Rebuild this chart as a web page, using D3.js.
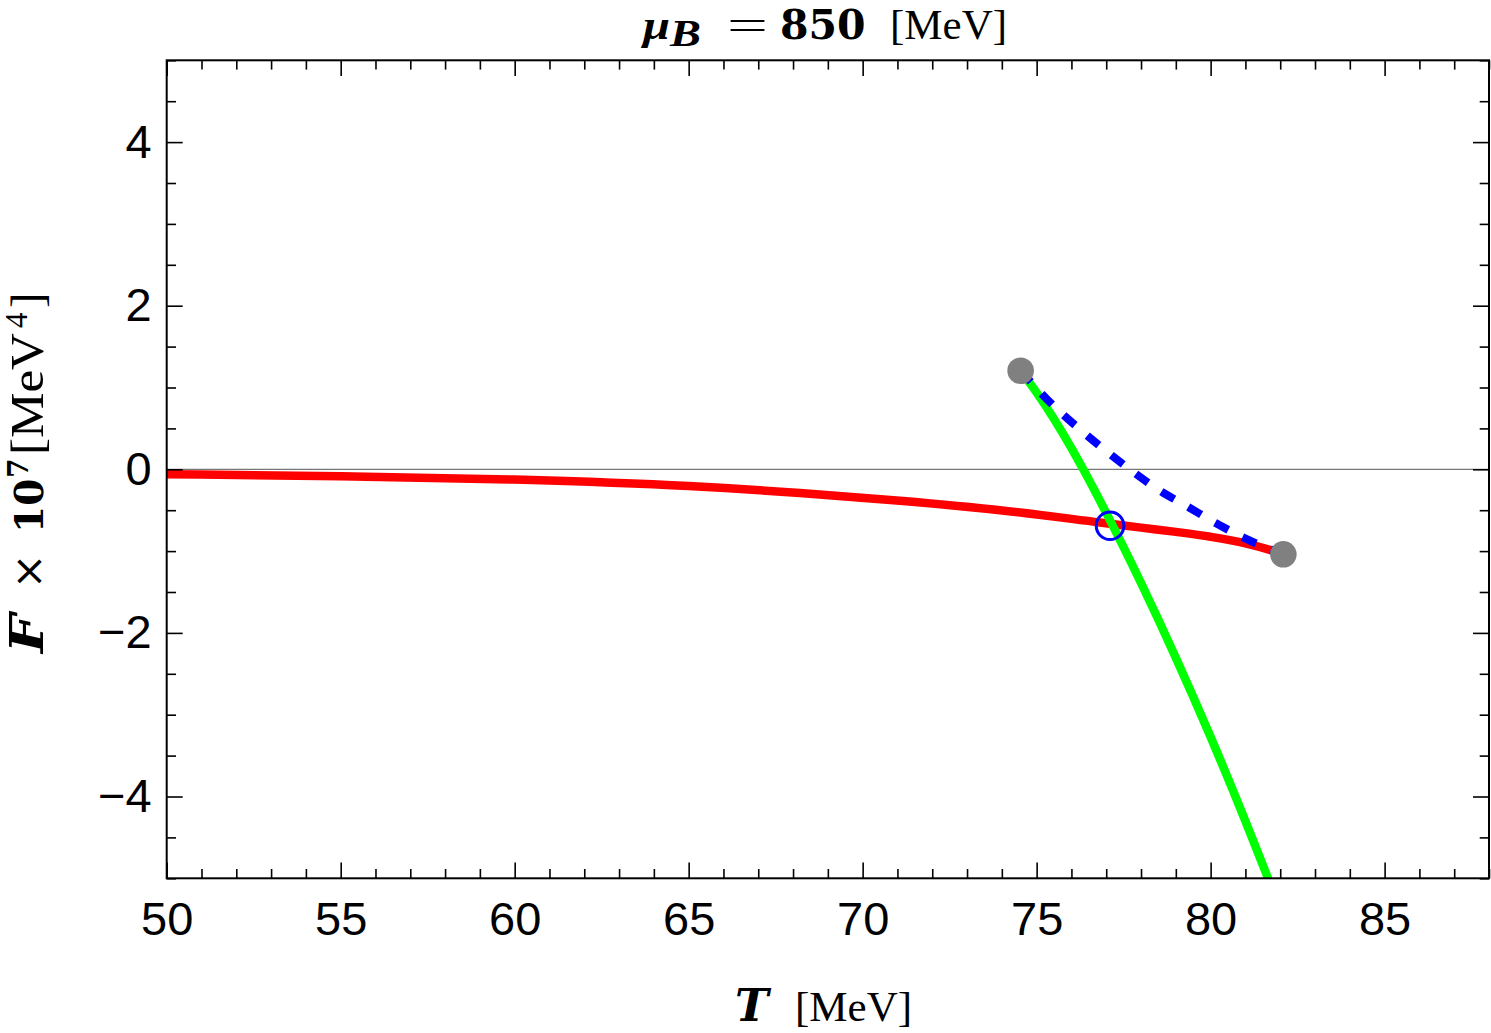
<!DOCTYPE html>
<html>
<head>
<meta charset="utf-8">
<script src="https://cdn.jsdelivr.net/npm/d3@7"></script>
<style>
  html, body { margin: 0; padding: 0; background: #fff; }
  svg { display: block; }
</style>
</head>
<body>
<svg id="chart" width="1491" height="1033"></svg>
<script>
// ---- data ----
const xMajorTicks = [50, 55, 60, 65, 70, 75, 80, 85];
const yMajorTicks = [-4, -2, 0, 2, 4];

const redT = [50, 55, 60, 65, 68.2, 71.07, 73.95, 76.82, 78, 79, 80, 81, 81.7, 82.09];
const redF = [-0.06, -0.085, -0.125, -0.205, -0.29, -0.385, -0.5, -0.65, -0.713, -0.765, -0.825, -0.905, -0.985, -1.039];

const greenT = [74.54, 75.0, 75.5, 76.0, 76.34, 77.0, 78.0, 79.0, 80.0, 81.0, 81.7];
const greenF = [1.205, 0.938, 0.616, 0.26, 0.0, -0.533, -1.39, -2.303, -3.273, -4.30, -5.053];

const blueT = [74.54, 75.56, 76.22, 76.96, 77.73, 78.51, 79.31, 80.13, 80.99, 82.09];
const blueF = [1.205, 0.746, 0.497, 0.236, -0.017, -0.253, -0.449, -0.653, -0.844, -1.039];

const endpointT = [74.54, 82.09];
const endpointF = [1.205, -1.039];
const crossT = [77.11];
const crossF = [-0.69];

// ---- layout ----
const L = 166.7, R = 1489, T = 60.3, B = 878.3;
const svg = d3.select("#chart");
const x = d3.scaleLinear().domain([50, 88]).range([L, R]);
const y = d3.scaleLinear().domain([-5, 5]).range([B, T]);

const sans = "'Liberation Sans', Arial, Helvetica, sans-serif";
const serif = "'Liberation Serif', 'Times New Roman', serif";
const dserif = "'DejaVu Serif', serif";

svg.append("defs").append("clipPath").attr("id", "clip")
  .append("rect").attr("x", L).attr("y", T).attr("width", R - L).attr("height", B - T);

// zero line
svg.append("line")
  .attr("x1", L).attr("x2", R).attr("y1", y(0)).attr("y2", y(0))
  .attr("stroke", "#777").attr("stroke-width", 1.3);

const zip = (a, b) => a.map((v, i) => [v, b[i]]);
const line = d3.line().x(d => x(d[0])).y(d => y(d[1])).curve(d3.curveMonotoneX);

const g = svg.append("g").attr("clip-path", "url(#clip)");
g.append("path").attr("d", line(zip(redT, redF)))
  .attr("fill", "none").attr("stroke", "#ff0000").attr("stroke-width", 8.5);
g.append("path").attr("d", line(zip(greenT, greenF)))
  .attr("fill", "none").attr("stroke", "#00ff00").attr("stroke-width", 8.5);
g.append("path").attr("d", line(zip(blueT, blueF)))
  .attr("fill", "none").attr("stroke", "#0000ff").attr("stroke-width", 8)
  .attr("stroke-dasharray", "15,16");

svg.selectAll("circle.end").data(zip(endpointT, endpointF)).enter()
  .append("circle").attr("class", "end")
  .attr("cx", d => x(d[0])).attr("cy", d => y(d[1])).attr("r", 13.3)
  .attr("fill", "#808080");

svg.selectAll("circle.cross").data(zip(crossT, crossF)).enter()
  .append("circle").attr("class", "cross")
  .attr("cx", d => x(d[0])).attr("cy", d => y(d[1])).attr("r", 13.8)
  .attr("fill", "none").attr("stroke", "#0000ff").attr("stroke-width", 3);

// ---- axes ----
const xMinor = d3.range(50, 89, 1).filter(v => !xMajorTicks.includes(v));
const yMinor = d3.range(-5, 5.01, 0.5).filter(v => !yMajorTicks.includes(v));
const fmt = d => d < 0 ? "\u2212" + Math.abs(d) : String(d);

function styleAxis(sel) {
  sel.select(".domain").remove();
  sel.selectAll(".tick line").attr("stroke", "#000").attr("stroke-width", 1.6);
  sel.selectAll(".tick text").attr("fill", "#000").style("font-family", sans).style("font-size", "47px");
}

svg.append("g").attr("transform", `translate(0,${B})`)
  .call(d3.axisBottom(x).tickValues(xMajorTicks).tickSize(-15.7).tickPadding(23).tickFormat(fmt))
  .call(styleAxis);
svg.append("g").attr("transform", `translate(0,${B})`)
  .call(d3.axisBottom(x).tickValues(xMinor).tickSize(-9.3).tickFormat(""))
  .call(styleAxis);
svg.append("g").attr("transform", `translate(0,${T})`)
  .call(d3.axisTop(x).tickValues(xMajorTicks).tickSize(-15.7).tickFormat(""))
  .call(styleAxis);
svg.append("g").attr("transform", `translate(0,${T})`)
  .call(d3.axisTop(x).tickValues(xMinor).tickSize(-9.3).tickFormat(""))
  .call(styleAxis);

svg.append("g").attr("transform", `translate(${L},0)`)
  .call(d3.axisLeft(y).tickValues(yMajorTicks).tickSize(-16).tickPadding(15).tickFormat(fmt))
  .call(styleAxis);
svg.append("g").attr("transform", `translate(${L},0)`)
  .call(d3.axisLeft(y).tickValues(yMinor).tickSize(-9.3).tickFormat(""))
  .call(styleAxis);
svg.append("g").attr("transform", `translate(${R},0)`)
  .call(d3.axisRight(y).tickValues(yMajorTicks).tickSize(-16).tickFormat(""))
  .call(styleAxis);
svg.append("g").attr("transform", `translate(${R},0)`)
  .call(d3.axisRight(y).tickValues(yMinor).tickSize(-9.3).tickFormat(""))
  .call(styleAxis);

// frame
svg.append("rect").attr("x", L).attr("y", T).attr("width", R - L).attr("height", B - T)
  .attr("fill", "none").attr("stroke", "#000").attr("stroke-width", 2);

// ---- text helper ----
function put(parent, str, opts) {
  const t = parent.append("text").text(str)
    .attr("x", opts.x).attr("y", opts.y || 0)
    .attr("fill", "#000")
    .style("font-family", opts.family || serif)
    .style("font-size", (opts.size || 43) + "px");
  if (opts.bold) t.style("font-weight", "bold");
  if (opts.italic) t.style("font-style", "italic");
  if (opts.len) t.attr("textLength", opts.len).attr("lengthAdjust", "spacingAndGlyphs");
  return t;
}

// ---- title ----
const tg = svg.append("g");
put(tg, "\u03bc", { x: 643, y: 39, bold: true, italic: true, size: 43, len: 27 });
put(tg, "B", { x: 670, y: 46, bold: true, italic: true, size: 38, len: 31 });
put(tg, "=", { x: 727, y: 39, size: 43, len: 41 });
put(tg, "850", { x: 780, y: 39, bold: true, size: 41, family: dserif });
put(tg, "[MeV]", { x: 890, y: 39, size: 43 });

// ---- x label ----
const xg = svg.append("g");
put(xg, "T", { x: 735, y: 1021, bold: true, italic: true, size: 45, family: dserif });
put(xg, "[MeV]", { x: 795, y: 1021, size: 43 });

// ---- y label ----
const yg = svg.append("g").attr("transform", "translate(43,653) rotate(-90)");
put(yg, "F", { x: 0, bold: true, italic: true, size: 46, family: dserif, len: 39 });
put(yg, "\u00d7", { x: 64, size: 42, family: dserif });
put(yg, "10", { x: 120, bold: true, size: 39, family: dserif });
put(yg, "7", { x: 175, y: -15, bold: true, size: 28, family: dserif });
put(yg, "[MeV", { x: 198, size: 46, len: 122 });
put(yg, "4", { x: 325, y: -16, size: 31 });
put(yg, "]", { x: 345, size: 46 });
</script>
</body>
</html>
